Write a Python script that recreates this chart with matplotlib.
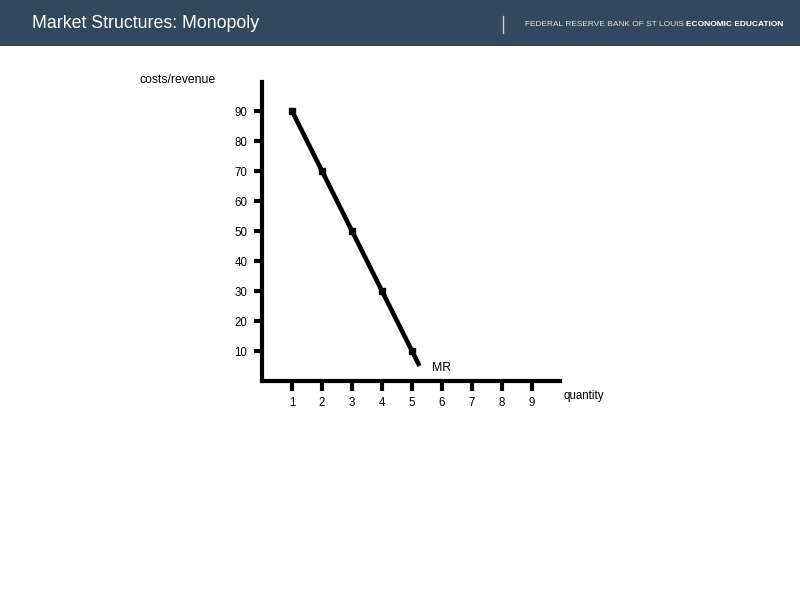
import matplotlib
matplotlib.use("Agg")
import matplotlib.pyplot as plt
from matplotlib.patches import Rectangle

plt.rcParams['font.family'] = ['Liberation Sans', 'DejaVu Sans']

# Data
quantity = [1, 2, 3, 4, 5]
mr_values = [90, 70, 50, 30, 10]
# MR line continues slightly past the last point
line_q = [1, 2, 3, 4, 5, 5.25]
line_mr = [90, 70, 50, 30, 10, 5]
x_ticks = [1, 2, 3, 4, 5, 6, 7, 8, 9]
y_ticks = [10, 20, 30, 40, 50, 60, 70, 80, 90]

title = "Market Structures: Monopoly"
brand_light = "FEDERAL RESERVE BANK OF ST LOUIS"
brand_bold = "ECONOMIC EDUCATION"

W, H = 800, 600
fig = plt.figure(figsize=(8, 6), dpi=100)
fig.patch.set_facecolor('white')

# Header banner
fig.patches.append(Rectangle((0, 1 - 46 / H), 1, 46 / H, transform=fig.transFigure,
                             facecolor='#33475f', edgecolor='none', zorder=0))
fig.text(32 / W, 1 - 23 / H, title, color='white', fontsize=12.8, va='center', ha='left')
fig.lines.append(plt.Line2D([503 / W, 503 / W], [1 - 16 / H, 1 - 33 / H], transform=fig.transFigure,
                            color='#c8ced6', linewidth=1))
fig.text(525 / W, 1 - 24 / H, brand_light, color='#dfe3e8', fontsize=6.0, va='center', ha='left')
fig.text(783 / W, 1 - 24 / H, brand_bold, color='white', fontsize=6.0, va='center', ha='right',
         fontweight='bold')

# Main axes: origin at pixel (262, 381), 30 px per unit
x0, y0 = 262, 381
ax = fig.add_axes([x0 / W, 1 - y0 / H, (560 - x0) / W, (y0 - 82) / H])
ax.set_xlim(0, (560 - x0) / 30)
ax.set_ylim(0, (y0 - 82) / 3)
for s in ['top', 'right']:
    ax.spines[s].set_visible(False)
for s in ['left', 'bottom']:
    ax.spines[s].set_linewidth(3)
    ax.spines[s].set_color('black')
ax.set_facecolor('none')

ax.set_xticks(x_ticks)
ax.set_yticks(y_ticks)
ax.tick_params(axis='x', direction='out', length=7.5, width=3, pad=4, labelsize=8.3)
ax.tick_params(axis='y', direction='out', length=6, width=3, pad=4.5, labelsize=8.3)

ax.plot(line_q, line_mr, color='black', linewidth=3.3, solid_capstyle='butt', clip_on=False)
ax.plot(quantity, mr_values, linestyle='none', marker='s', markersize=4.5, color='black', clip_on=False)

ax.text(5.97, 4.3, "MR", fontsize=8.8, ha='center', va='center')
fig.text(563 / W, 1 - 396 / H, "quantity", fontsize=8.3, ha='left', va='center')
fig.text(140 / W, 1 - 80 / H, "costs/revenue", fontsize=8.8, ha='left', va='center')

fig.savefig("out.png", dpi=100)
